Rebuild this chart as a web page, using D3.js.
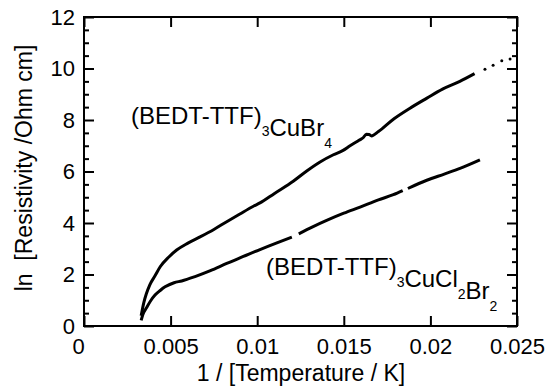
<!DOCTYPE html>
<html>
<head>
<meta charset="utf-8">
<script src="https://cdn.jsdelivr.net/npm/d3@7"></script>
<style>
  body { margin: 0; background: #fff; }
  text { font-family: "Liberation Sans", Arial, Helvetica, sans-serif; fill: #000; }
</style>
</head>
<body>
<div id="chart"></div>
<script>
const width = 548,
height = 388,
margin = ({ top: 17, right: 31, bottom: 62, left: 84 });

// (BEDT-TTF)3CuBr4
const brX = [0.00330, 0.00345, 0.00360, 0.00380, 0.00410, 0.00440, 0.00490, 0.00535, 0.00600, 0.00670,
    0.00750, 0.00824, 0.00900, 0.00978, 0.01016, 0.01100, 0.01208, 0.01286, 0.01363, 0.01440,
    0.01496, 0.01536, 0.01590, 0.01613, 0.01630, 0.01645, 0.01660, 0.01700, 0.01790, 0.01880,
    0.01980, 0.02070, 0.02170, 0.02255]
const brY = [0.40, 0.90, 1.25, 1.60, 1.95, 2.30, 2.68, 2.95, 3.22, 3.46,
    3.75, 4.05, 4.35, 4.65, 4.78, 5.15, 5.62, 6.02, 6.37, 6.65,
    6.82, 7.00, 7.22, 7.32, 7.45, 7.44, 7.38, 7.55, 8.05, 8.45,
    8.85, 9.20, 9.50, 9.80]
// dotted tail of the same curve
const brDotX = [0.02315, 0.02362, 0.02412, 0.02460]
const brDotY = [9.97, 10.13, 10.30, 10.37]

// (BEDT-TTF)3CuCl2Br2 (null = gap in the trace)
const clX = [0.00330, 0.00340, 0.00362, 0.00385, 0.00410, 0.00440, 0.00468, 0.00520, 0.00564, 0.00641,
    0.00730, 0.00824, 0.00920, 0.01016, 0.01110, 0.01200, null, 0.01240, 0.01320, 0.01401,
    0.01500, 0.01594, 0.01700, 0.01786, 0.01840, null, 0.01870, 0.01979, 0.02080, 0.02171, 0.02286]
const clY = [0.22, 0.45, 0.72, 0.98, 1.20, 1.38, 1.52, 1.68, 1.75, 1.92,
    2.15, 2.43, 2.70, 2.97, 3.22, 3.45, null, 3.58, 3.85, 4.10,
    4.38, 4.62, 4.90, 5.10, 5.26, null, 5.34, 5.66, 5.90, 6.12, 6.45]

const xTickLabels = ["0", "0.005", "0.01", "0.015", "0.02", "0.025"]
const yTickLabels = ["0", "2", "4", "6", "8", "10", "12"]

const svg = d3.select("#chart")
    .append("svg")
    .attr("width", width)
    .attr("height", height);

svg.append("rect").attr("width", width).attr("height", height).attr("fill", "#fff");

let x = d3.scaleLinear()
    .domain([0, 0.025])
    .range([margin.left, width - margin.right]);

let y = d3.scaleLinear()
    .domain([0, 12])
    .range([height - margin.bottom, margin.top]);

const minorY = d3.range(0, 12.01, 0.5).filter(v => v % 2 !== 0)
const xVals = xTickLabels.map(d => +d)
const yVals = yTickLabels.map(d => +d)

// bottom axis, ticks inward
const gx = svg.append("g")
    .attr("transform", `translate(0,${y(0)})`)
    .call(d3.axisBottom(x).tickValues(xVals).tickSize(-10).tickPadding(12)
        .tickFormat((d, i) => xTickLabels[i]));
gx.selectAll("text").attr("dx", (d, i) => i === 0 ? -6 : 0);

// top axis, ticks only
svg.append("g")
    .attr("transform", `translate(0,${y(12)})`)
    .call(d3.axisTop(x).tickValues(xVals).tickSize(-10).tickFormat(""));

// left axis, major + minor
svg.append("g")
    .attr("transform", `translate(${x(0)},0)`)
    .call(d3.axisLeft(y).tickValues(yVals).tickSize(-10).tickPadding(9)
        .tickFormat((d, i) => yTickLabels[i]));
svg.append("g")
    .attr("transform", `translate(${x(0)},0)`)
    .call(d3.axisLeft(y).tickValues(minorY).tickSize(-5).tickFormat(""));

// right axis, major + minor
svg.append("g")
    .attr("transform", `translate(${x(0.025)},0)`)
    .call(d3.axisRight(y).tickValues(yVals).tickSize(-10).tickFormat(""));
svg.append("g")
    .attr("transform", `translate(${x(0.025)},0)`)
    .call(d3.axisRight(y).tickValues(minorY).tickSize(-5).tickFormat(""));

svg.selectAll(".domain").remove();
svg.selectAll(".tick line").attr("stroke", "#000").attr("stroke-width", 2);
svg.selectAll(".tick text")
    .attr("font-size", 22)
    .attr("font-family", "'Liberation Sans', Arial, Helvetica, sans-serif")
    .attr("fill", "#000");

// frame
svg.append("rect")
    .attr("x", x(0)).attr("y", y(12))
    .attr("width", x(0.025) - x(0)).attr("height", y(0) - y(12))
    .attr("fill", "none").attr("stroke", "#000").attr("stroke-width", 2);

const line = d3.line()
    .defined(d => d[0] !== null)
    .x(d => x(d[0]))
    .y(d => y(d[1]))
    .curve(d3.curveMonotoneX);

svg.append("path")
    .datum(d3.zip(brX, brY))
    .attr("fill", "none").attr("stroke", "#000").attr("stroke-width", 3)
    .attr("d", line);

svg.append("path")
    .datum(d3.zip(clX, clY))
    .attr("fill", "none").attr("stroke", "#000").attr("stroke-width", 3)
    .attr("d", line);

svg.selectAll(".dot")
    .data(d3.zip(brDotX, brDotY))
    .join("circle")
    .attr("class", "dot")
    .attr("cx", d => x(d[0]))
    .attr("cy", d => y(d[1]))
    .attr("r", 1.5)
    .attr("fill", "#000");

// compound labels with subscripts
function label(px, py, parts) {
    let t = svg.append("text").attr("x", px).attr("y", py).attr("font-size", 24);
    for (let p of parts) {
        if (p.sub) {
            t.append("tspan").text(p.s).attr("font-size", 14).attr("dy", 12);
            t.append("tspan").text("").attr("dy", -12);
        } else {
            t.append("tspan").text(p.s);
        }
    }
}
label(131, 124, [{ s: "(BEDT-TTF)" }, { s: "3", sub: true }, { s: "CuBr" }, { s: "4", sub: true }]);
label(266, 275, [{ s: "(BEDT-TTF)" }, { s: "3", sub: true }, { s: "CuCl" }, { s: "2", sub: true },
    { s: "Br" }, { s: "2", sub: true }]);

// axis titles
svg.append("text")
    .attr("x", 301).attr("y", 381)
    .attr("text-anchor", "middle")
    .attr("font-size", 23)
    .text("1 / [Temperature / K]");

svg.append("text")
    .attr("transform", "translate(32,168) rotate(-90)")
    .attr("text-anchor", "middle")
    .attr("font-size", 23)
    .attr("xml:space", "preserve")
    .style("white-space", "pre")
    .text("ln  [Resistivity /Ohm cm]");
</script>
</body>
</html>
